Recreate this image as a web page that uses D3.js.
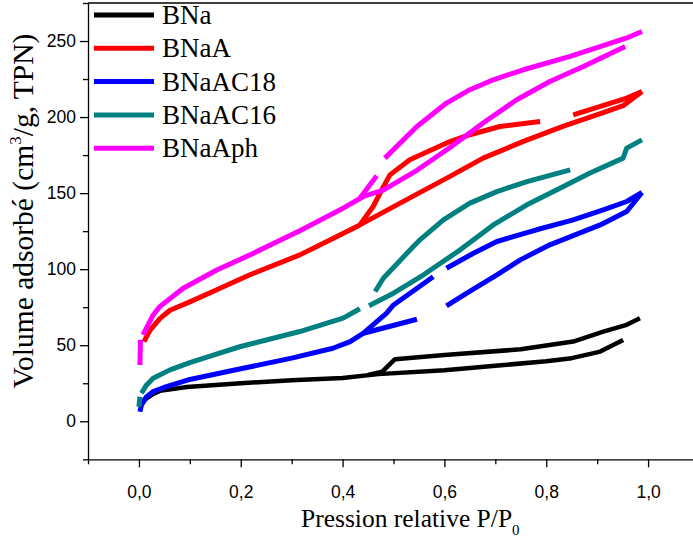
<!DOCTYPE html>
<html>
<head>
<meta charset="utf-8">
<script src="https://cdn.jsdelivr.net/npm/d3@7"></script>
<style>
  body { margin: 0; background: #fff; }
  text { fill: #000; }
</style>
</head>
<body>
<svg width="693" height="537"></svg>
<script>
// isotherms: [P/P0, volume], null = break in the line
var bnaAds = [[0.003,12],[0.015,15],[0.028,18],[0.041,20],[0.094,22.5],[0.2,25],[0.3,27],[0.4,28.5],[0.47,31],[0.6,33.5],[0.7,36.5],[0.8,39.5],[0.85,41.5],[0.906,45.8],[0.951,53.5]];
var bnaDes = [[0.984,67.8],[0.958,63.4],[0.912,58.9],[0.853,52.4],[0.75,47.3],[0.6,43.6],[0.503,40.8],[0.478,32.6],[0.45,30.4]];

var bnaaAds = [[0.01,52.4],[0.022,60],[0.041,67.5],[0.061,73],[0.1,78.5],[0.153,86.5],[0.218,96.3],[0.316,109.4],[0.382,120.4],[0.434,129.1],[0.513,143.4],[0.611,161],[0.676,173],[0.755,184],[0.834,194],[0.899,201.5],[0.951,207.5],[0.988,216.8]];
var bnaaDes = [[0.988,216.8],[0.958,212.5],[0.853,201.5],null,[0.788,197.1],[0.709,193.8],[0.65,188.4],[0.611,183.9],[0.532,171.9],[0.493,162],[0.477,152.2],[0.46,141.2],[0.434,129.1]];

var ac18Ads = [[0.002,6.3],[0.005,10.7],[0.015,16.2],[0.028,19.5],[0.054,22.8],[0.1,27.5],[0.2,34.5],[0.3,41.5],[0.381,48],[0.415,52.4],[0.441,57.9],[0.546,67.1],null,[0.604,75.9],[0.644,84.2],[0.703,96.3],[0.749,106.1],[0.807,116],[0.906,129.1],[0.958,137.9],[0.988,150.4]];
var ac18Des = [[0.988,150.4],[0.958,144.5],[0.912,139],[0.853,132.4],[0.781,125.9],[0.703,118.2],[0.657,110.5],[0.604,100.6],null,[0.578,95],[0.5,76.5],[0.486,71],[0.467,65.5],[0.441,57.9]];

var ac16Ads = [[0,9.6],[0.002,16.2],null,[0.005,18.4],[0.015,23.9],[0.028,28.3],[0.061,33.8],[0.1,38.5],[0.126,41.4],[0.198,49],[0.316,59],[0.401,67.8],[0.434,74],null,[0.452,76],[0.5,84.2],[0.559,96.3],[0.631,112.7],[0.696,129.1],[0.762,142.3],[0.821,152.2],[0.886,163.2],[0.951,173],[0.958,179.6],[0.988,185]];
var ac16Des = [[0.847,165.3],[0.762,157.6],[0.703,151],[0.65,143.4],[0.598,132.4],[0.552,119.3],[0.539,114.9],[0.48,94],[0.464,85.3]];

var aphAds = [[0.002,37],[0.003,53.5],null,[0.008,56.8],[0.028,69.9],[0.041,75.4],[0.087,87.5],[0.153,99.5],[0.218,109.4],[0.316,125.3],[0.401,140.1],[0.441,147.8],[0.48,152],[0.546,165],[0.611,180],[0.676,196.1],[0.742,211.4],[0.807,223.4],[0.873,233.3],[0.955,246.4]];
var aphDes = [[0.988,256.3],[0.958,252],[0.847,239.9],[0.755,231.1],[0.696,224.5],[0.65,218],[0.604,209.2],[0.546,193.8],[0.483,173],null,[0.467,161.4],[0.434,146.7]];

var names = ["BNa", "BNaA", "BNaAC18", "BNaAC16", "BNaAph"];
var colors = ["#000000", "#ff0000", "#0000ff", "#008080", "#ff00ff"];
var branches = [[bnaAds, bnaDes], [bnaaAds, bnaaDes], [ac18Ads, ac18Des], [ac16Ads, ac16Des], [aphAds, aphDes]];

var xTicks = [0, 0.2, 0.4, 0.6, 0.8, 1.0];
var xMinor = [-0.1, 0.1, 0.3, 0.5, 0.7, 0.9, 1.1];
var yTicks = [0, 50, 100, 150, 200, 250];
var yMinor = [-25, 25, 75, 125, 175, 225, 275];

var svg = d3.select("svg"),
    x0 = 88, x1 = 699, y0 = 459.3, y1 = 3;

var x = d3.scaleLinear().domain([-0.1, 1.1]).range([x0, x1]),
    y = d3.scaleLinear().domain([-25, 275]).range([y0, y1]);

var comma = d3.formatLocale({decimal: ",", thousands: ".", grouping: [3], currency: ["", ""]}).format(".1f");

// frame on top
svg.append("line")
    .attr("x1", x0).attr("x2", x1)
    .attr("y1", y1).attr("y2", y1)
    .attr("stroke", "#000").attr("stroke-width", 1.3);

svg.append("g")
    .attr("transform", "translate(0," + y0 + ")")
    .call(d3.axisBottom(x).tickValues(xTicks).tickSize(8).tickSizeOuter(0).tickPadding(18).tickFormat(comma));
svg.append("g")
    .attr("transform", "translate(0," + y0 + ")")
    .call(d3.axisBottom(x).tickValues(xMinor).tickSize(5).tickSizeOuter(0).tickFormat(""))
    .select(".domain").remove();

svg.append("g")
    .attr("transform", "translate(" + x0 + ",0)")
    .call(d3.axisLeft(y).tickValues(yTicks).tickSize(8).tickSizeOuter(0).tickPadding(4));
svg.append("g")
    .attr("transform", "translate(" + x0 + ",0)")
    .call(d3.axisLeft(y).tickValues(yMinor).tickSize(5).tickSizeOuter(0).tickFormat(""))
    .select(".domain").remove();

svg.selectAll(".domain, .tick line").attr("stroke", "#000").attr("stroke-width", 1.3);
svg.selectAll(".tick text")
    .attr("font-family", "'Liberation Sans', Arial, sans-serif")
    .attr("font-size", 17.5)
    .attr("fill", "#000");

// curves
var line = d3.line()
    .defined(function(d) { return d !== null; })
    .x(function(d) { return x(d[0]); })
    .y(function(d) { return y(d[1]); });

branches.forEach(function(pair, i) {
  pair.forEach(function(b) {
    svg.append("path")
        .datum(b)
        .attr("fill", "none")
        .attr("stroke", colors[i])
        .attr("stroke-width", i == 0 ? 4.5 : 5)
        .attr("stroke-linejoin", "round")
        .attr("d", line);
  });
});

// legend
var lg = svg.append("g");
names.forEach(function(n, i) {
  var ly = 15 + i * 33.3;
  lg.append("line")
      .attr("x1", 94).attr("x2", 154)
      .attr("y1", ly).attr("y2", ly)
      .attr("stroke", colors[i]).attr("stroke-width", 5);
  lg.append("text")
      .attr("x", 162).attr("y", ly + 9)
      .attr("font-family", "'Liberation Serif', 'Times New Roman', serif")
      .attr("font-size", 27)
      .text(n);
});

// axis titles
var xt = svg.append("text")
    .attr("x", 301).attr("y", 527)
    .attr("font-family", "'Liberation Serif', 'Times New Roman', serif")
    .attr("font-size", 25.5)
    .text("Pression relative P/P");
xt.append("tspan").attr("dy", 8).attr("font-size", 15).text("0");

var yt = svg.append("text")
    .attr("transform", "translate(33,211) rotate(-90)")
    .attr("text-anchor", "middle")
    .attr("font-family", "'Liberation Serif', 'Times New Roman', serif")
    .attr("font-size", 29.5)
    .text("Volume adsorbé (cm");
yt.append("tspan").attr("dy", -12).attr("font-size", 17).text("3");
yt.append("tspan").attr("dy", 12).text("/g, TPN)");
</script>
</body>
</html>
